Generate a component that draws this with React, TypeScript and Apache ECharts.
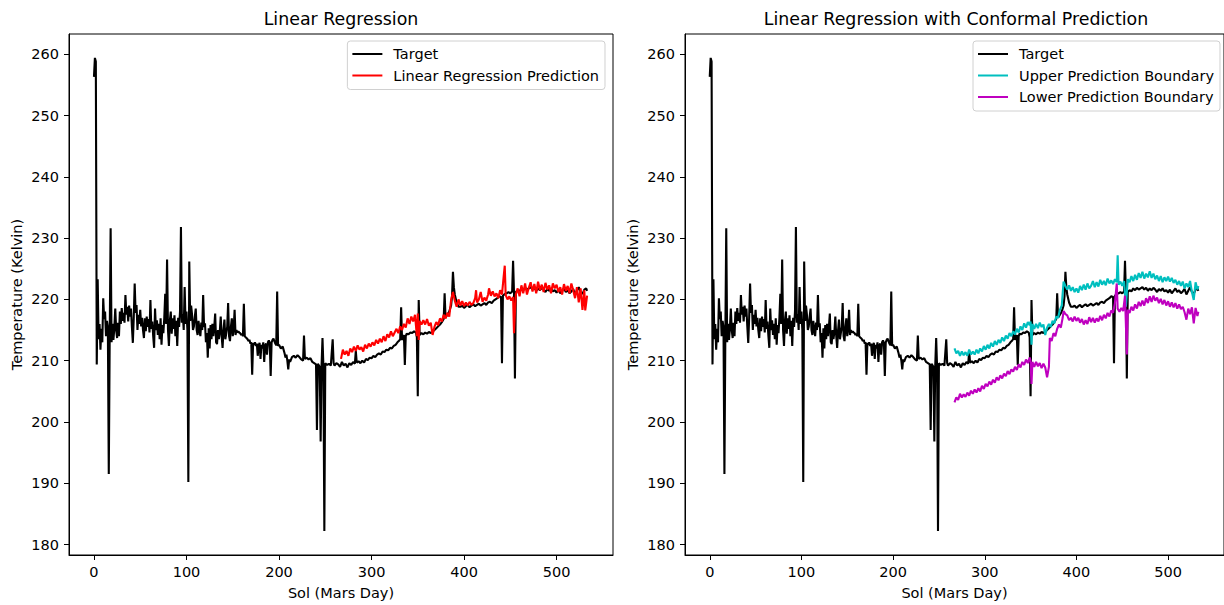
import React, { useEffect, useRef } from "react";
import * as echarts from "echarts";

// [sol, temperature K]
const target: [number, number][] = [
  [0,256.3],[1,259.4],[2,258.8],[3,209.4],[4,223.3],[5,213.5],[6,216.0],[7,211.8],[8,215.2],[9,213.0],
  [10,220.2],[11,216.8],[12,218.0],[13,214.0],[14,216.5],[15,215.5],[16,191.5],[17,214.0],[18,231.6],[19,213.0],
  [20,216.0],[21,213.4],[22,215.3],[23,218.5],[24,215.0],[25,213.7],[26,216.2],[27,214.0],[28,218.0],[29,216.0],
  [30,218.6],[31,216.5],[32,217.8],[33,216.2],[34,220.7],[35,217.5],[36,218.8],[37,216.4],[38,219.0],[39,217.2],
  [40,218.5],[41,215.5],[42,212.9],[43,217.0],[44,222.6],[45,217.8],[46,219.1],[47,215.0],[48,217.5],[49,216.0],
  [50,218.3],[51,215.6],[52,217.0],[53,215.0],[54,213.7],[55,216.9],[56,214.8],[57,217.2],[58,215.5],[59,216.8],
  [60,214.6],[61,219.9],[62,215.2],[63,216.4],[64,214.0],[65,212.1],[66,218.5],[67,215.0],[68,216.6],[69,214.2],
  [70,216.0],[71,213.5],[72,216.9],[73,212.6],[74,215.8],[75,214.5],[76,217.0],[77,220.9],[78,216.0],[79,226.5],
  [80,215.0],[81,212.4],[82,216.5],[83,218.0],[84,214.4],[85,216.9],[86,215.2],[87,217.4],[88,214.0],[89,216.5],
  [90,212.4],[91,217.0],[92,215.5],[93,218.0],[94,231.8],[95,216.2],[96,217.6],[97,215.0],[98,222.0],[99,216.0],
  [100,218.0],[101,215.0],[102,190.2],[103,226.2],[104,216.5],[105,219.0],[106,217.5],[107,215.0],[108,215.6],[109,217.2],
  [110,218.5],[111,215.0],[112,214.2],[113,216.5],[114,215.0],[115,214.0],[116,216.2],[117,215.0],[118,220.7],[119,215.5],
  [120,216.1],[121,213.0],[122,214.5],[123,210.5],[124,215.3],[125,212.0],[126,215.8],[127,213.5],[128,216.0],[129,214.0],
  [130,215.5],[131,217.7],[132,213.0],[133,212.7],[134,215.0],[135,213.5],[136,214.8],[137,217.2],[138,214.0],[139,212.1],
  [140,215.0],[141,216.7],[142,213.5],[143,214.5],[144,215.5],[145,219.4],[146,214.0],[147,213.2],[148,215.5],[149,216.9],
  [150,214.0],[151,215.2],[152,218.3],[153,214.2],[154,215.0],[155,214.6],[156,214.8],[157,214.6],[158,214.5],[159,214.2],
  [160,214.4],[161,214.0],[162,219.3],[163,214.0],[164,213.8],[165,213.7],[166,213.5],[167,213.2],[168,213.4],[169,212.8],
  [170,213.0],[171,207.7],[172,212.9],[173,212.6],[174,213.0],[175,212.4],[176,212.8],[177,210.8],[178,212.5],[179,212.9],
  [180,210.3],[181,212.6],[182,212.0],[183,213.0],[184,209.8],[185,212.5],[186,212.8],[187,211.0],[188,213.0],[189,213.3],
  [190,212.9],[191,207.5],[192,213.0],[193,213.4],[194,213.6],[195,213.2],[196,212.8],[197,212.5],[198,221.3],[199,212.4],
  [200,212.6],[202,212.0],[204,212.3],[206,211.2],[207,210.5],[208,211.0],[209,210.0],[210,208.6],[211,210.2],[212,209.8],
  [214,210.6],[216,210.8],[218,210.5],[220,210.9],[222,210.6],[224,210.2],[226,210.0],[227,214.1],[228,210.3],[230,210.5],
  [232,210.2],[234,210.4],[236,209.8],[238,209.6],[240,209.4],[241,198.7],[242,209.5],[244,209.0],[245,196.8],[246,209.2],
  [247,213.7],[248,209.0],[249,182.2],[250,209.6],[252,209.3],[254,209.5],[256,209.2],[258,213.5],[259,209.6],[260,209.2],
  [262,209.6],[264,209.4],[266,209.0],[268,209.8],[270,209.2],[272,209.5],[274,208.9],[276,209.6],[278,209.3],[280,209.8],
  [282,209.5],[283,211.6],[284,209.7],[286,209.9],[288,209.6],[290,210.0],[292,209.7],[294,210.3],[296,210.1],[298,210.5],
  [300,210.4],[302,210.8],[304,210.6],[306,211.0],[308,211.2],[310,211.0],[312,211.5],[314,211.4],[316,211.8],[318,211.7],
  [320,212.1],[322,212.0],[324,212.4],[326,212.6],[328,213.0],[330,213.3],[331,213.5],[332,218.7],[333,213.4],[334,213.8],
  [335,214.2],[336,209.3],[337,214.0],[338,214.4],[340,214.3],[342,214.6],[344,214.5],[346,214.8],[348,214.6],[349,213.8],
  [350,204.2],[351,219.9],[352,214.2],[354,214.5],[356,214.3],[358,214.6],[360,214.4],[362,214.7],[364,214.5],[366,214.8],
  [368,215.0],[370,215.3],[372,215.6],[374,215.9],[376,216.3],[378,216.8],[379,221.0],[380,217.0],[382,217.5],[384,218.0],
  [386,219.0],[387,220.5],[388,224.5],[389,222.0],[390,220.8],[392,219.5],[394,218.8],[396,218.8],[398,219.0],[400,218.6],
  [402,218.9],[404,219.1],[406,218.7],[408,219.0],[410,219.2],[412,218.9],[414,219.1],[416,219.3],[418,219.0],[420,219.2],
  [422,219.4],[424,219.1],[426,219.5],[428,219.6],[430,219.4],[432,219.8],[434,220.0],[436,220.2],[438,220.5],[440,220.4],
  [441,209.6],[442,220.6],[444,220.9],[446,221.0],[448,221.2],[450,221.0],[452,221.3],[453,226.3],[454,221.0],[455,207.1],
  [456,221.2],[458,221.5],[460,221.3],[462,221.8],[464,221.5],[466,221.9],[468,221.6],[470,221.8],[472,222.0],[474,221.6],
  [476,221.9],[478,221.4],[480,221.8],[482,221.5],[484,221.9],[486,221.6],[488,221.2],[490,221.7],[492,221.4],[494,221.8],
  [496,221.3],[498,221.5],[500,221.1],[502,221.6],[504,221.0],[506,221.4],[508,221.8],[510,221.2],[512,221.5],[514,221.0],
  [516,221.3],[518,221.7],[520,220.8],[522,221.4],[524,222.0],[526,221.2],[528,220.9],[530,221.6],[532,221.8],[533,221.4],
];

const prediction: [number, number][] = [
  [267,210.3],[269,211.8],[271,211.0],[273,211.6],[275,210.8],[277,212.0],[279,211.4],[281,212.3],[283,211.6],[285,212.5],
  [287,211.8],[289,212.2],[291,211.5],[293,212.6],[295,212.0],[297,212.8],[299,212.3],[301,213.0],[303,212.5],[305,213.4],
  [307,212.8],[309,213.6],[311,213.0],[313,214.0],[315,213.2],[317,214.3],[319,213.8],[321,214.8],[323,214.0],[325,214.6],
  [327,215.2],[329,214.5],[331,215.6],[333,215.0],[335,216.0],[337,215.4],[339,216.9],[341,216.0],[343,217.2],[345,216.4],
  [347,217.5],[349,214.0],[350,217.7],[351,213.4],[352,216.5],[354,215.9],[356,216.6],[358,215.9],[360,216.8],[362,215.7],
  [364,216.2],[366,214.2],[368,215.5],[370,216.3],[372,215.8],[374,216.9],[376,216.4],[378,217.5],[380,216.9],[382,217.8],
  [384,217.2],[386,219.9],[388,221.2],[390,219.8],[392,218.8],[394,220.0],[396,219.0],[398,219.7],[400,218.9],[402,219.5],
  [404,219.0],[406,219.6],[408,219.1],[410,219.4],[412,220.2],[413,221.5],[414,219.5],[416,220.0],[418,221.2],[420,219.6],
  [422,220.3],[424,219.8],[426,220.8],[427,221.8],[429,220.6],[431,221.3],[433,220.5],[435,221.0],[437,220.2],[439,221.5],
  [441,220.8],[443,224.0],[444,225.5],[445,220.7],[447,220.0],[449,220.5],[451,219.8],[453,220.4],[454,214.5],[455,218.0],
  [456,220.8],[458,221.8],[460,220.5],[462,222.3],[464,221.0],[466,222.6],[468,220.8],[470,221.9],[472,222.8],[474,221.3],
  [476,222.5],[478,221.0],[480,222.9],[482,221.5],[484,222.4],[486,221.2],[488,222.7],[490,221.6],[492,222.3],[494,221.0],
  [496,222.6],[498,221.8],[500,222.4],[502,221.2],[504,222.0],[506,220.8],[508,222.5],[510,221.4],[512,222.2],[514,221.0],
  [516,222.6],[518,221.5],[520,220.2],[522,222.0],[524,219.5],[526,221.8],[528,218.3],[530,221.5],[531,218.2],[533,220.6],
];

const upperBound: [number, number][] = [
  [267,212.0],[269,211.2],[271,211.6],[273,210.8],[275,211.5],[277,210.9],[279,211.4],[281,210.8],[283,211.8],[285,211.0],
  [287,211.5],[289,211.0],[291,211.8],[293,211.2],[295,212.0],[297,211.5],[299,212.4],[301,211.8],[303,212.6],[305,212.0],
  [307,212.9],[309,212.3],[311,213.2],[313,212.6],[315,213.4],[317,212.9],[319,213.8],[321,213.2],[323,214.1],[325,213.6],
  [327,214.5],[329,214.0],[331,214.8],[333,214.3],[335,215.2],[337,214.6],[339,215.6],[341,215.0],[343,216.1],[345,215.4],
  [347,216.3],[349,215.8],[350,216.4],[351,212.6],[352,216.0],[354,215.2],[356,216.0],[358,215.3],[360,216.2],[362,215.5],
  [364,215.9],[366,214.2],[368,215.4],[370,216.0],[372,215.5],[374,216.5],[376,216.1],[378,217.2],[380,217.0],[382,218.3],
  [384,219.0],[386,222.9],[388,222.2],[390,221.6],[392,222.3],[394,221.4],[396,222.0],[398,221.2],[400,221.8],[402,221.1],
  [404,222.2],[406,221.5],[408,222.4],[410,221.6],[412,222.6],[414,221.8],[416,222.2],[418,223.0],[420,222.0],[422,222.8],
  [424,222.1],[426,223.2],[428,222.4],[430,223.0],[432,222.3],[434,223.4],[436,222.6],[438,223.1],[440,222.5],[442,223.3],
  [444,222.8],[445,227.2],[446,222.4],[448,222.9],[450,222.2],[452,223.0],[454,218.8],[456,223.3],[458,222.8],[460,223.8],
  [462,223.0],[464,224.0],[466,223.2],[468,224.3],[470,223.5],[472,224.5],[474,223.4],[476,224.2],[478,223.6],[480,224.6],
  [482,223.5],[484,224.2],[486,223.3],[488,223.9],[490,223.0],[492,223.8],[494,222.8],[496,223.6],[498,223.0],[500,223.7],
  [502,222.9],[504,223.5],[506,222.7],[508,223.2],[510,222.4],[512,223.0],[514,222.2],[516,222.9],[518,221.8],[520,222.6],
  [522,222.0],[524,223.0],[526,221.2],[528,219.9],[530,222.8],[532,221.6],[533,222.2],
];

const lowerBound: [number, number][] = [
  [267,203.2],[269,204.0],[271,203.6],[273,204.6],[275,204.0],[277,204.5],[279,204.1],[281,204.8],[283,204.3],[285,205.1],
  [287,204.6],[289,205.3],[291,204.8],[293,205.5],[295,205.0],[297,205.9],[299,205.4],[301,206.2],[303,205.8],[305,206.6],
  [307,206.1],[309,206.9],[311,206.4],[313,207.3],[315,206.8],[317,207.6],[319,207.1],[321,207.9],[323,207.5],[325,208.3],
  [327,207.8],[329,208.6],[331,208.2],[333,209.0],[335,208.5],[337,209.4],[339,208.9],[341,209.8],[343,209.3],[345,210.2],
  [347,209.6],[349,210.5],[350,210.0],[351,206.2],[352,209.8],[354,209.0],[356,209.8],[358,209.1],[360,209.6],[362,208.8],
  [364,209.5],[366,208.9],[368,207.3],[370,209.0],[371,213.7],[373,213.2],[375,214.5],[377,214.0],[379,215.2],[381,215.9],
  [383,215.4],[385,217.0],[386,218.1],[388,217.6],[390,217.4],[392,216.6],[394,217.0],[396,216.4],[398,217.2],[400,216.5],
  [402,217.0],[404,216.2],[406,216.8],[408,215.9],[410,216.6],[412,216.0],[414,217.1],[416,216.3],[418,217.0],[420,216.2],
  [422,216.9],[424,216.4],[426,217.3],[428,216.6],[430,217.5],[432,216.9],[434,217.8],[436,217.2],[438,218.2],[440,217.8],
  [442,219.4],[444,222.6],[445,218.5],[447,218.0],[449,218.6],[451,218.1],[453,220.6],[455,211.0],[456,218.3],[458,217.8],
  [460,218.8],[462,218.2],[464,219.2],[466,218.5],[468,219.6],[470,218.9],[472,219.8],[474,219.0],[476,220.2],[478,219.4],
  [480,220.5],[482,219.6],[484,220.6],[486,219.8],[488,220.3],[490,219.4],[492,220.1],[494,219.2],[496,219.9],[498,219.0],
  [500,219.7],[502,218.8],[504,219.5],[506,218.7],[508,219.4],[510,218.5],[512,219.2],[514,218.4],[516,218.8],[518,217.9],
  [520,216.7],[522,218.5],[524,217.6],[526,218.7],[528,216.1],[530,218.6],[532,217.3],[533,218.0],
];

const xTicks = [0, 100, 200, 300, 400, 500];
const yTicks = [180, 190, 200, 210, 220, 230, 240, 250, 260];
const titles = ["Linear Regression", "Linear Regression with Conformal Prediction"];

const FONT = "DejaVu Sans";
const FS = 14.5;

function xAxisCfg(gridIndex: number) {
  return {
    type: "value",
    gridIndex,
    min: -27,
    max: 561,
    name: "Sol (Mars Day)",
    nameLocation: "middle",
    nameGap: 30,
    nameTextStyle: { fontSize: FS, color: "#000", fontFamily: FONT },
    splitLine: { show: false },
    axisLine: { show: true, onZero: false, lineStyle: { color: "#000", width: 1 } },
    axisTick: { show: true, length: 5, inside: false, customValues: xTicks, lineStyle: { color: "#000", width: 1 } },
    axisLabel: { customValues: xTicks, fontSize: FS, color: "#000", fontFamily: FONT, margin: 9 },
  };
}

function yAxisCfg(gridIndex: number) {
  return {
    type: "value",
    gridIndex,
    min: 178.3,
    max: 263.3,
    name: "Temperature (Kelvin)",
    nameLocation: "middle",
    nameGap: 45,
    nameTextStyle: { fontSize: FS, color: "#000", fontFamily: FONT },
    splitLine: { show: false },
    axisLine: { show: true, onZero: false, lineStyle: { color: "#000", width: 1 } },
    axisTick: { show: true, length: 5, inside: false, customValues: yTicks, lineStyle: { color: "#000", width: 1 } },
    axisLabel: { customValues: yTicks, fontSize: FS, color: "#000", fontFamily: FONT, margin: 10 },
  };
}

function lineSeries(name: string, data: [number, number][], color: string, idx: number, z: number) {
  return {
    type: "line",
    name,
    data,
    xAxisIndex: idx,
    yAxisIndex: idx,
    showSymbol: false,
    symbol: "none",
    silent: true,
    z,
    lineStyle: { color, width: 2.1 },
    itemStyle: { color },
  };
}

const legendBase = {
  orient: "vertical",
  icon: "rect",
  itemWidth: 30,
  itemHeight: 2,
  itemGap: 5.5,
  textStyle: { fontSize: FS, color: "#000", fontFamily: FONT, lineHeight: 16, padding: [0, 0, 0, 6] },
  backgroundColor: "rgba(255,255,255,0.8)",
  borderColor: "#d0d0d0",
  borderWidth: 1,
  borderRadius: 3,
  padding: [5, 6, 6, 5],
  selectedMode: false,
};

export default function App() {
  const ref = useRef<HTMLDivElement>(null);
  useEffect(() => {
    if (!ref.current) return;
    const chart = echarts.init(ref.current, null, { renderer: "svg" });
    chart.setOption({
      animation: false,
      backgroundColor: "#fff",
      title: [
        { text: titles[0], left: 341, top: 10, textAlign: "center", padding: 0,
          textStyle: { fontSize: 17.4, fontWeight: "normal", color: "#000", fontFamily: FONT } },
        { text: titles[1], left: 956, top: 10, textAlign: "center", padding: 0,
          textStyle: { fontSize: 17.4, fontWeight: "normal", color: "#000", fontFamily: FONT } },
      ],
      grid: [
        { left: 69, right: 611, top: 34, bottom: 46, show: true, borderColor: "#000", borderWidth: 1, backgroundColor: "transparent" },
        { left: 685, right: -4, top: 34, bottom: 46, show: true, borderColor: "#000", borderWidth: 1, backgroundColor: "transparent" },
      ],
      xAxis: [xAxisCfg(0), xAxisCfg(1)],
      yAxis: [yAxisCfg(0), yAxisCfg(1)],
      legend: [
        { ...legendBase, right: 619, top: 41,
          data: [{ name: "Target", itemStyle: { color: "#000" } }, { name: "Linear Regression Prediction", itemStyle: { color: "#ff0000" } }] },
        { ...legendBase, right: 4, top: 41,
          data: [{ name: "Target", itemStyle: { color: "#000" } }, { name: "Upper Prediction Boundary", itemStyle: { color: "#00bfbf" } }, { name: "Lower Prediction Boundary", itemStyle: { color: "#bf00bf" } }] },
      ],
      series: [
        lineSeries("Target", target, "#000000", 0, 2),
        lineSeries("Linear Regression Prediction", prediction, "#ff0000", 0, 3),
        lineSeries("Target", target, "#000000", 1, 2),
        lineSeries("Upper Prediction Boundary", upperBound, "#00bfbf", 1, 3),
        lineSeries("Lower Prediction Boundary", lowerBound, "#bf00bf", 1, 4),
      ],
    });
    return () => chart.dispose();
  }, []);
  return (
    <div
      ref={ref}
      style={{ position: "fixed", left: 0, top: 0, width: 1224, height: 605, background: "#fff" }}
    />
  );
}
